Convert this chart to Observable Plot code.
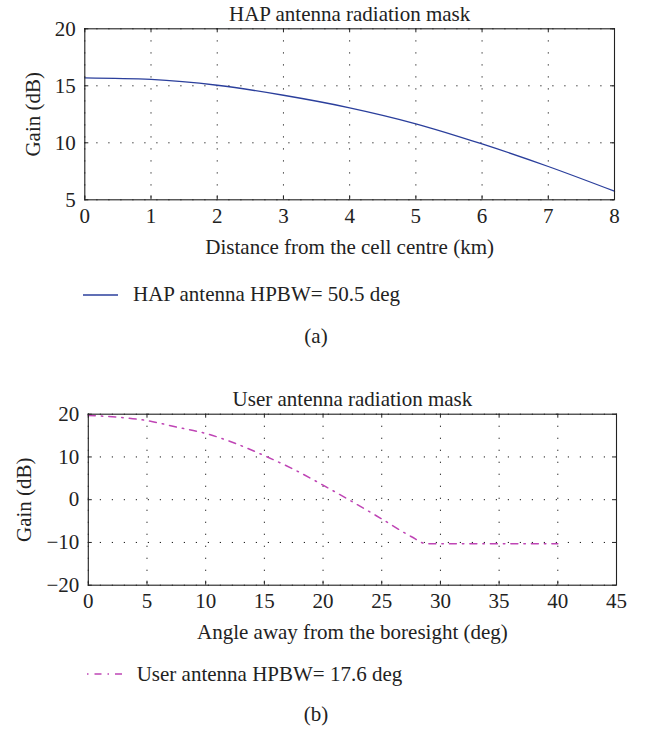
<!DOCTYPE html>
<html><head><meta charset="utf-8">
<script src="https://cdn.jsdelivr.net/npm/d3@7"></script>
<script src="https://cdn.jsdelivr.net/npm/@observablehq/plot@0.6"></script>
<style>
body{margin:0;background:#fff;}
#root{position:relative;width:654px;height:734px;font-family:"Liberation Serif",serif;color:#222;overflow:hidden;}
.panel{position:absolute;left:0;}
.txt{position:absolute;font-family:"Liberation Serif",serif;font-size:21px;line-height:21px;white-space:nowrap;color:#222;}
</style></head><body><div id="root"></div>
<script>
// Panel (a): HAP antenna radiation mask
const hapDistance = [0, 1, 2, 3, 4, 5, 6, 7, 8];
const hapGain = [15.7, 15.56, 15.05, 14.17, 13.07, 11.67, 9.9, 7.92, 5.75];
const hapXTicks = [0, 1, 2, 3, 4, 5, 6, 7, 8];
const hapYTicks = [5, 10, 15, 20];

// Panel (b): User antenna radiation mask
const userAngle = [0, 2.5, 5, 7.5, 10, 12.5, 15, 17.5, 20, 22.5, 25, 27.5, 28.8, 30, 35, 40];
const userGain = [19.7, 19.3, 18.5, 17.0, 15.5, 13.2, 10.3, 7.1, 3.4, -0.5, -4.5, -8.6, -10.3, -10.3, -10.3, -10.3];
const userXTicks = [0, 5, 10, 15, 20, 25, 30, 35, 40, 45];
const userYTicks = [-20, -10, 0, 10, 20];

const titles = ["HAP antenna radiation mask", "User antenna radiation mask"];
const xLabels = ["Distance from the cell centre (km)", "Angle away from the boresight (deg)"];
const yLabel = "Gain (dB)";
const legendLabels = ["HAP antenna HPBW= 50.5 deg", "User antenna HPBW= 17.6 deg"];
const captions = ["(a)", "(b)"];

const root = document.getElementById("root");
const W = 654, H = 260;
const FONT = '"Liberation Serif", serif';

function panel({xs, ys, xDomain, yDomain, xTicks, yTicks, title, xLabel, mt, mb, ml, mr, stroke, dash, sw, ylabDx}) {
  const data = xs.map((x, i) => ({x, y: ys[i]}));
  const fw = W - ml - mr, fh = H - mt - mb;
  const gridStyle = {stroke: "#000", strokeOpacity: 0.9, strokeWidth: 1, strokeDasharray: "1.2,10.8"};
  const txt = {fill: "#222", fontFamily: FONT, fontSize: 21, textAnchor: "middle", lineAnchor: "middle"};
  return Plot.plot({
    width: W, height: H,
    marginTop: mt, marginBottom: mb, marginLeft: ml, marginRight: mr,
    style: {fontFamily: FONT, fontSize: "21px", color: "#222", background: "transparent"},
    x: {domain: xDomain},
    y: {domain: yDomain},
    marks: [
      Plot.ruleX(xTicks, {x: d => d, ...gridStyle}),
      Plot.ruleY(yTicks, {y: d => d, ...gridStyle}),
      Plot.ruleX(xTicks, {x: d => d, stroke: "#222", insetTop: fh - 4}),
      Plot.ruleX(xTicks, {x: d => d, stroke: "#222", insetBottom: fh - 4}),
      Plot.ruleY(yTicks, {y: d => d, stroke: "#222", insetRight: fw - 4}),
      Plot.ruleY(yTicks, {y: d => d, stroke: "#222", insetLeft: fw - 4}),
      Plot.line(data, {x: "x", y: "y", stroke, strokeWidth: sw, strokeDasharray: dash, curve: "monotone-x"}),
      Plot.frame({stroke: "#222", strokeWidth: 1.1}),
      Plot.axisX({ticks: xTicks, tickSize: 0, tickPadding: 8, label: null, fontFamily: FONT, fontSize: 21, fill: "#222"}),
      Plot.axisY({ticks: yTicks, tickSize: 0, tickPadding: 9, label: null, fontFamily: FONT, fontSize: 21, fill: "#222"}),
      Plot.text([title], {text: d => d, frameAnchor: "top", dy: -15, ...txt}),
      Plot.text([xLabel], {text: d => d, frameAnchor: "bottom", dy: 47, ...txt}),
      Plot.text([yLabel], {text: d => d, frameAnchor: "left", rotate: -90, dx: ylabDx, ...txt})
    ]
  });
}

const hapColor = "#2b3f9c";
const userColor = "#bf45b5";
const userDash = "7,6,1.5,6";

const pA = panel({xs: hapDistance, ys: hapGain, xDomain: [0, 8], yDomain: [5, 20], xTicks: hapXTicks, yTicks: hapYTicks,
  title: titles[0], xLabel: xLabels[0], mt: 28.3, mb: 60.7, ml: 84.3, mr: 40, stroke: hapColor, dash: null, sw: 1.3, ylabDx: -51.3});
const pB = panel({xs: userAngle, ys: userGain, xDomain: [0, 45], yDomain: [-20, 20], xTicks: userXTicks, yTicks: userYTicks,
  title: titles[1], xLabel: xLabels[1], mt: 28.7, mb: 60.3, ml: 87.8, mr: 38, stroke: userColor, dash: userDash, sw: 1.5, ylabDx: -64});

pA.classList.add("panel"); pA.style.top = "0px";
pB.classList.add("panel"); pB.style.top = "385px";
root.appendChild(pA); root.appendChild(pB);

function legend(left, top, color, dash, text, textLeft, textTop) {
  const ns = "http://www.w3.org/2000/svg";
  const s = document.createElementNS(ns, "svg");
  s.setAttribute("width", 36); s.setAttribute("height", 20);
  s.style.position = "absolute"; s.style.left = left + "px"; s.style.top = top + "px";
  const l = document.createElementNS(ns, "line");
  l.setAttribute("x1", 0); l.setAttribute("x2", 35); l.setAttribute("y1", 10); l.setAttribute("y2", 10);
  l.setAttribute("stroke", color); l.setAttribute("stroke-width", 1.4);
  if (dash) l.setAttribute("stroke-dasharray", dash);
  s.appendChild(l);
  root.appendChild(s);
  const t = document.createElement("div");
  t.className = "txt"; t.style.left = textLeft + "px"; t.style.top = textTop + "px";
  t.textContent = text;
  root.appendChild(t);
}
legend(83, 285, hapColor, null, legendLabels[0], 133, 284.4);
legend(87, 664, userColor, "1.5,6,7,6", legendLabels[1], 136.7, 664.4);

function caption(text, top) {
  const c = document.createElement("div");
  c.className = "txt"; c.style.left = "0px"; c.style.width = "632px"; c.style.textAlign = "center";
  c.style.top = top + "px"; c.textContent = text;
  root.appendChild(c);
}
caption(captions[0], 326.4);
caption(captions[1], 704.4);
</script></body></html>
